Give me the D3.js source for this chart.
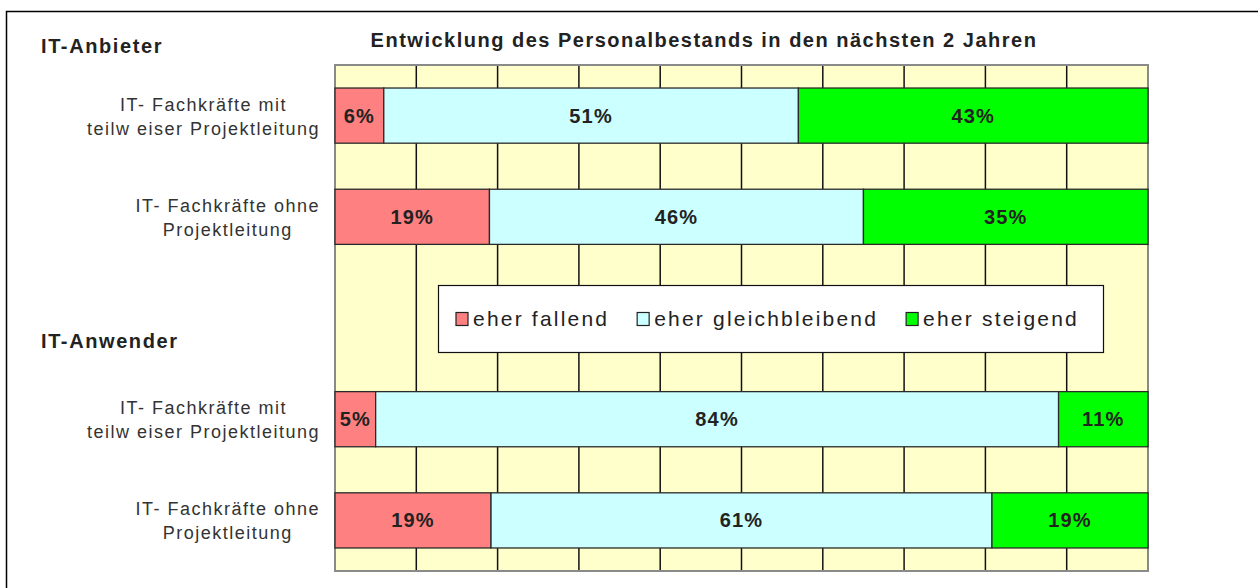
<!DOCTYPE html>
<html>
<head>
<meta charset="utf-8">
<script src="https://cdn.jsdelivr.net/npm/d3@7"></script>
<style>
  body { margin: 0; background: #fff; }
  svg { display: block; font-family: Arial, "Liberation Sans", sans-serif; }
</style>
</head>
<body>
<div id="chart"></div>
<script>
// ---------------------------------------------------------------- DATA ---------------------------------------------------------- //
const categories = ["anbieter_mit", "anbieter_ohne", "leer", "anwender_mit", "anwender_ohne"];
const categoryLabels = [
  ["IT- Fachkräfte mit", "teilw eiser Projektleitung"],
  ["IT- Fachkräfte ohne", "Projektleitung"],
  [],
  ["IT- Fachkräfte mit", "teilw eiser Projektleitung"],
  ["IT- Fachkräfte ohne", "Projektleitung"]
];
const seriesNames = ["eher fallend", "eher gleichbleibend", "eher steigend"];
const fallend   = [6, 19, null, 5, 19];
const gleich    = [51, 46, null, 84, 61];
const steigend  = [43, 35, null, 11, 19];
const groupLabels = ["IT-Anbieter", "IT-Anwender"];
const xTicks = [10, 20, 30, 40, 50, 60, 70, 80, 90];
const title = "Entwicklung des Personalbestands in den nächsten 2 Jahren";

const colors = ["#FF8080", "#CCFFFF", "#00FF00"];

// ---------------------------------------------------------------- SETUP --------------------------------------------------------- //
const W = 1258, H = 588;
const plot = {left: 335, right: 1148, top: 65, bottom: 571};

const svg = d3.select("#chart").append("svg")
  .attr("width", W)
  .attr("height", H);

// outer frame (only top / left visible, like the cropped screenshot)
svg.append("rect")
  .attr("x", 6.5).attr("y", 11.5)
  .attr("width", 1400).attr("height", 800)
  .attr("fill", "none")
  .attr("stroke", "#000")
  .attr("stroke-width", 1.5);

const x = d3.scaleLinear().domain([0, 1]).range([plot.left, plot.right]);
const xPct = d3.scaleLinear().domain([0, 100]).range([plot.left, plot.right]);
const y = d3.scaleBand()
  .domain(categories)
  .range([plot.top, plot.bottom])
  .paddingInner(0.455)
  .paddingOuter(0.2275);

// rows table for d3.stack (gap row left out)
const rows = categories.map(function (c, i) {
  return {id: c, "eher fallend": fallend[i], "eher gleichbleibend": gleich[i], "eher steigend": steigend[i]};
}).filter(function (d) { return d["eher fallend"] != null; });

const stacked = d3.stack().keys(seriesNames).offset(d3.stackOffsetExpand)(rows);

// ---------------------------------------------------------------- PLOT AREA ----------------------------------------------------- //
svg.append("rect")
  .attr("x", plot.left).attr("y", plot.top)
  .attr("width", plot.right - plot.left).attr("height", plot.bottom - plot.top)
  .attr("fill", "#FFFFCC");

svg.append("g")
  .selectAll("line")
  .data(xTicks)
  .enter()
  .append("line")
  .attr("x1", function (d) { return xPct(d); })
  .attr("x2", function (d) { return xPct(d); })
  .attr("y1", plot.top)
  .attr("y2", plot.bottom)
  .attr("stroke", "#111")
  .attr("stroke-width", 1.5);

svg.append("rect")
  .attr("x", plot.left).attr("y", plot.top)
  .attr("width", plot.right - plot.left).attr("height", plot.bottom - plot.top)
  .attr("fill", "none")
  .attr("stroke", "#8a8a8a")
  .attr("stroke-width", 2);

// ---------------------------------------------------------------- BARS ---------------------------------------------------------- //
const layer = svg.append("g")
  .selectAll("g")
  .data(stacked)
  .enter()
  .append("g")
  .attr("fill", function (d, i) { return colors[i]; });

layer.selectAll("rect")
  .data(function (d) { return d; })
  .enter()
  .append("rect")
  .attr("x", function (d) { return x(d[0]); })
  .attr("y", function (d) { return y(d.data.id); })
  .attr("width", function (d) { return x(d[1]) - x(d[0]); })
  .attr("height", y.bandwidth())
  .attr("stroke", "#2a2a2a")
  .attr("stroke-width", 1.3);

layer.selectAll("text")
  .data(function (d) { return d.map(function (p) { p.key = d.key; return p; }); })
  .enter()
  .append("text")
  .attr("x", function (d) { return (x(d[0]) + x(d[1])) / 2; })
  .attr("y", function (d) { return y(d.data.id) + y.bandwidth() / 2 + 7; })
  .attr("text-anchor", "middle")
  .attr("font-size", 20)
  .attr("font-weight", "bold")
  .attr("letter-spacing", 1.2)
  .attr("fill", "#222")
  .text(function (d) { return d.data[d.key] + "%"; });

// ---------------------------------------------------------------- LABELS -------------------------------------------------------- //
svg.append("text")
  .attr("x", 704)
  .attr("y", 47)
  .attr("text-anchor", "middle")
  .attr("font-size", 20)
  .attr("font-weight", "bold")
  .attr("letter-spacing", 1.5)
  .attr("fill", "#222")
  .text(title);

svg.selectAll(".group")
  .data(groupLabels)
  .enter()
  .append("text")
  .attr("class", "group")
  .attr("x", 41)
  .attr("y", function (d, i) { return i === 0 ? 53 : 348; })
  .attr("font-size", 20)
  .attr("font-weight", "bold")
  .attr("letter-spacing", 1.6)
  .attr("fill", "#222")
  .text(function (d) { return d; });

// category labels: block right aligned, lines centered within the block
const labelRight = 320;
categories.forEach(function (c, i) {
  const lines = categoryLabels[i];
  if (!lines.length) return;
  const g = svg.append("g");
  const texts = g.selectAll("text")
    .data(lines)
    .enter()
    .append("text")
    .attr("font-size", 18)
    .attr("letter-spacing", 1.5)
    .attr("fill", "#333")
    .attr("text-anchor", "middle")
    .attr("y", function (d, j) { return y(c) + y.bandwidth() / 2 - 5 + j * 24; })
    .text(function (d) { return d; });
  let maxW = 0;
  texts.each(function () { maxW = Math.max(maxW, this.getComputedTextLength()); });
  texts.attr("x", labelRight - maxW / 2);
});

// ---------------------------------------------------------------- LEGEND -------------------------------------------------------- //
const legend = svg.append("g");
legend.append("rect")
  .attr("x", 438.5).attr("y", 285.5)
  .attr("width", 665).attr("height", 67)
  .attr("fill", "#fff")
  .attr("stroke", "#111")
  .attr("stroke-width", 1.2);

let lx = 456;
seriesNames.forEach(function (name, i) {
  legend.append("rect")
    .attr("x", lx).attr("y", 312.5)
    .attr("width", 12).attr("height", 13)
    .attr("fill", colors[i])
    .attr("stroke", "#222")
    .attr("stroke-width", 1.2);
  const t = legend.append("text")
    .attr("x", lx + 17)
    .attr("y", 326)
    .attr("font-size", 21)
    .attr("letter-spacing", 2.2)
    .attr("fill", "#222")
    .text(name);
  lx += 17 + t.node().getComputedTextLength() + 28;
});
</script>
</body>
</html>
